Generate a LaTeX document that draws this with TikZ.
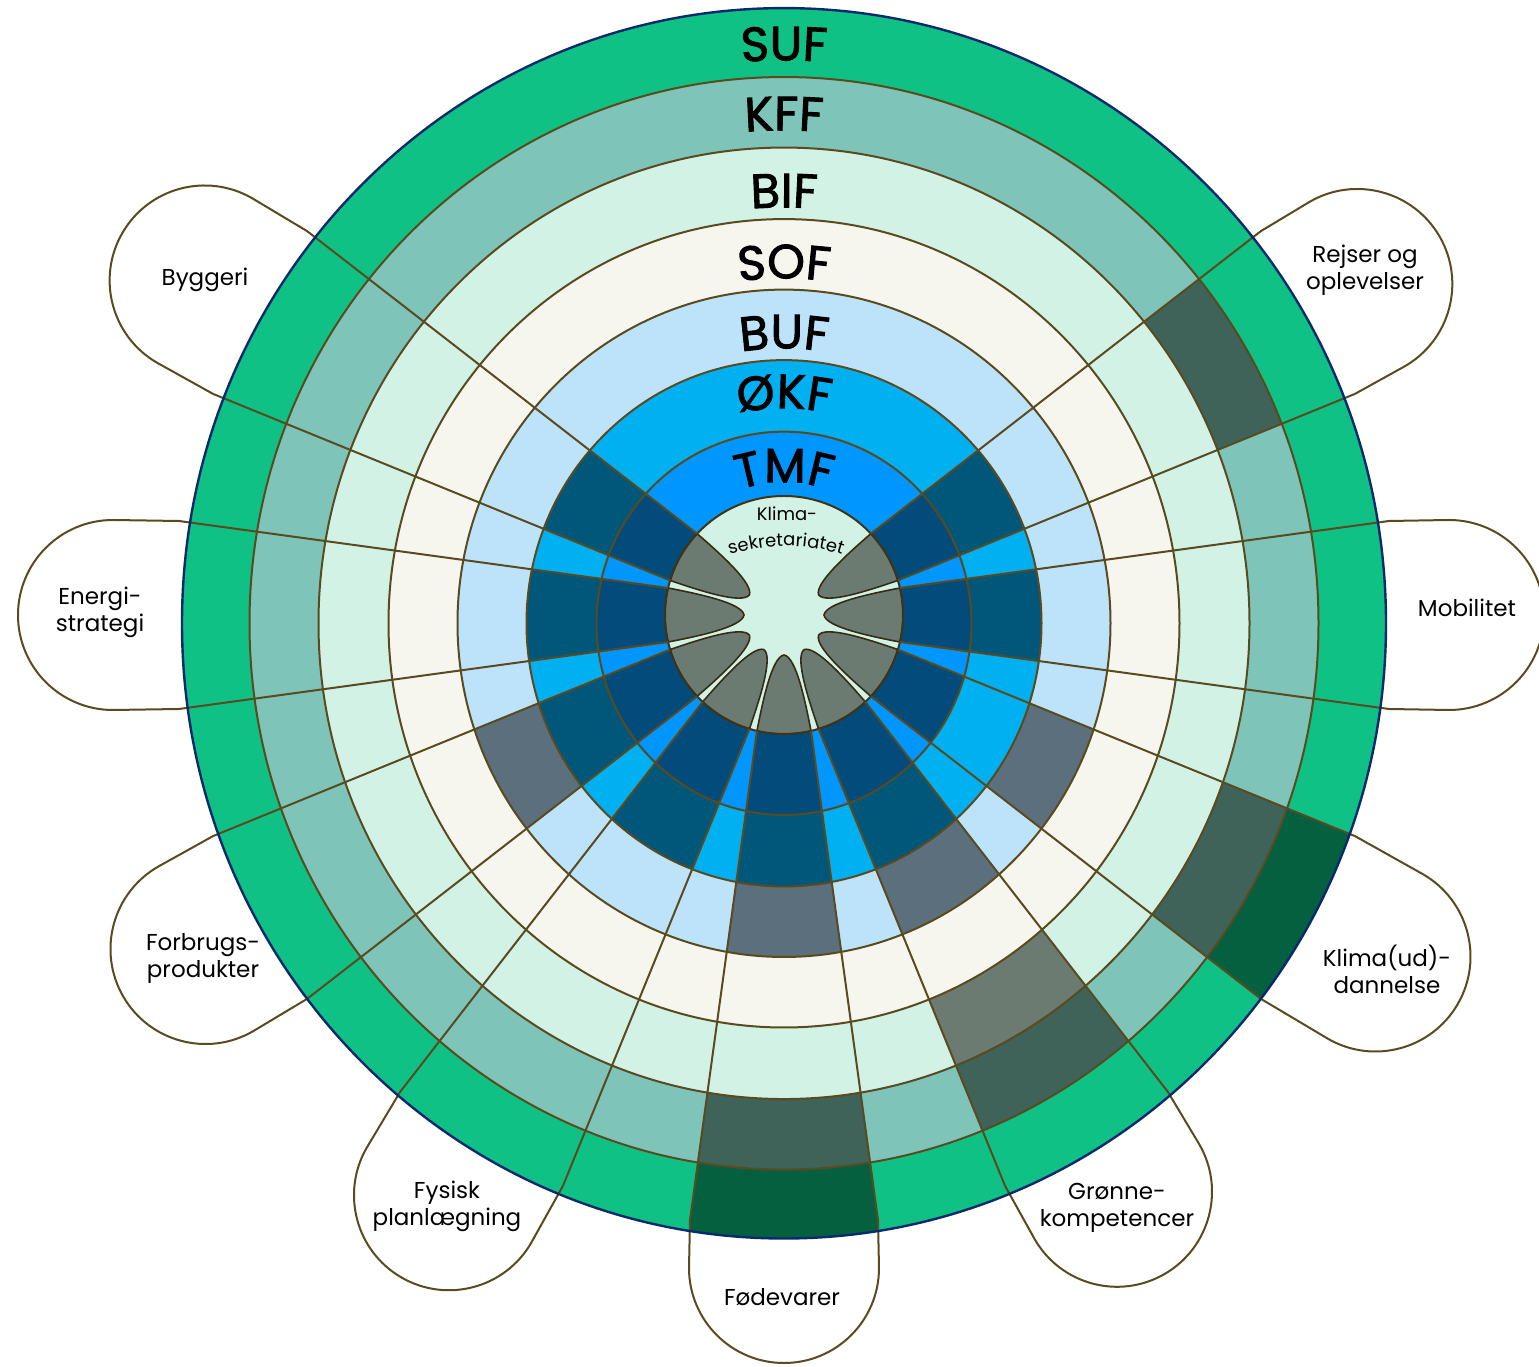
\documentclass[tikz,border=0pt]{standalone}
\usepackage{fontspec}
\setmainfont{Poppins}
\newfontfamily\ringfam{Poppins}[FakeBold=2]
\usetikzlibrary{decorations.text}

\definecolor{suf0}{HTML}{0FC184}
\definecolor{suf1}{HTML}{05603F}
\definecolor{kff0}{HTML}{7FC4B8}
\definecolor{kff1}{HTML}{3F6259}
\definecolor{bif0}{HTML}{D3F2E6}
\definecolor{bif1}{HTML}{6B7B72}
\definecolor{sof0}{HTML}{F6F6EE}
\definecolor{sof1}{HTML}{6B7B72}
\definecolor{buf0}{HTML}{BDE3FB}
\definecolor{buf1}{HTML}{5B6F7D}
\definecolor{okf0}{HTML}{00B0F0}
\definecolor{okf1}{HTML}{00577A}
\definecolor{tmf0}{HTML}{0096FF}
\definecolor{tmf1}{HTML}{034B7A}
\definecolor{edge}{HTML}{5A4A1F}
\definecolor{rim}{HTML}{0B2A6E}

\newcommand{\ringfont}{\fontsize{24}{24}\selectfont\ringfam}
% rings from outside in, flags: tmf okf buf sof bif kff suf
\newcommand{\ringdisks}[7]{%
  \fill[fill=suf#7] (Cr) ellipse[x radius=602, y radius=615.2];
  \fill[fill=kff#6] (Cr) ellipse[x radius=534.5, y radius=546.3];
  \fill[fill=bif#5] (Cr) ellipse[x radius=465.5, y radius=475.7];
  \fill[fill=sof#4] (Cr) ellipse[x radius=395.5, y radius=404.2];
  \fill[fill=buf#3] (Cr) ellipse[x radius=326.5, y radius=333.7];
  \fill[fill=okf#2] (Cr) ellipse[x radius=257.5, y radius=263.2];
  \fill[fill=tmf#1] (Cr) ellipse[x radius=187.5, y radius=191.6];
}

\tikzset{
  petal/.style={font=\fontsize{11.5}{13.5}\selectfont, align=center, text=black},
  ringlabel/.style={decorate, decoration={text along path, text align=center}},
}

\begin{document}
\begin{tikzpicture}[x=0.5pt, y=0.5pt]
  \fill[white] (0,0) rectangle (1539,1367);
  \useasboundingbox (0,0) rectangle (1539,1367);
  \coordinate (Cr) at (784,743.7);
  \coordinate (Ci) at (784,752);

  % the committee rings
  \ringdisks{0}{0}{0}{0}{0}{0}{0}

  % darker parts where a theme meets a committee
  \foreach \wa/\sT/\sO/\sB/\sS/\sI/\sK/\sU in {
      0/1/1/0/0/0/0/0,     % Mobilitet
      30/1/1/0/0/0/1/0,    % Rejser og oplevelser
      150/1/1/0/0/0/0/0,   % Byggeri
      180/1/1/0/0/0/0/0,   % Energistrategi
      210/1/1/1/0/0/0/0,   % Forbrugsprodukter
      240/1/1/0/0/0/0/0,   % Fysisk planlaegning
      270/1/1/1/0/0/1/1,   % Foedevarer
      300/1/1/1/0/1/1/0,   % Groenne kompetencer
      330/1/0/1/0/0/1/1}   % Klima(ud)dannelse
  {
    \begin{scope}
      \clip[shift={(Ci)}, rotate=\wa] (0,11.1) -- (605,94) -- (720,97)
        -- (720,-97) -- (605,-94) -- (0,-11.1) -- cycle;
      \ringdisks{\sT}{\sO}{\sB}{\sS}{\sI}{\sK}{\sU}
    \end{scope}
  }

  % centre
  \fill[bif0] (Ci) circle[radius=119];
  \foreach \wa in {0,30,150,180,210,240,270,300,330}
    \filldraw[fill=bif1, draw=edge!60!black, line width=0.8pt, shift={(Ci)}, rotate=\wa]
      (115.9,27) .. controls (85,21) and (42,12) .. (40,0)
      .. controls (42,-12) and (85,-21) .. (115.9,-27)
      arc[start angle=-13.11, end angle=13.11, radius=119] -- cycle;

  % ring borders
  \foreach \rr in {534.5,465.5,395.5,326.5,257.5,187.5} {
    \pgfmathsetmacro\ry{1.022*\rr}
    \draw[edge, line width=1pt] (Cr) ellipse[x radius=\rr, y radius=\ry];
  }
  \draw[edge!70!black, line width=1pt] (Ci) circle[radius=119];

  % petals
  \foreach \wa/\wd in {0/665, 30/662, 150/669, 180/671, 210/668, 240/670, 270/653, 300/666, 330/683}
    \draw[edge, line width=1pt, line join=round, shift={(Ci)}, rotate=\wa]
      (115.9,27) -- (605,94) -- (\wd,95) arc[start angle=90, end angle=-90, radius=95]
      -- (605,-94) -- (115.9,-27);

  \draw[rim, line width=1.2pt] (Cr) ellipse[x radius=602, y radius=615.2];

  % committee names
  \path[ringlabel, decoration={text={|\ringfont|SUF}}] (Cr) ++(100:563) arc[start angle=100, end angle=80, radius=563];
  \path[ringlabel, decoration={text={|\ringfont|KFF}}] (Cr) ++(102:493) arc[start angle=102, end angle=78, radius=493];
  \path[ringlabel, decoration={text={|\ringfont|BIF}}] (Cr) ++(104:416) arc[start angle=104, end angle=76, radius=416];
  \path[ringlabel, decoration={text={|\ringfont|SOF}}] (Cr) ++(107:345) arc[start angle=107, end angle=73, radius=345];
  \path[ringlabel, decoration={text={|\ringfont|BUF}}] (Cr) ++(111:275) arc[start angle=111, end angle=69, radius=275];
  \path[ringlabel, decoration={text={|\ringfont|ØKF}}] (Cr) ++(117:215) arc[start angle=117, end angle=63, radius=215];
  \path[ringlabel, decoration={text={|\ringfont|TMF}}] (Cr) ++(130:141) arc[start angle=130, end angle=50, radius=141];

  \node[font=\fontsize{9}{9}\selectfont] (klima) at (787,853) {Klima-};
  \path[ringlabel, decoration={text={|\fontsize{9}{9}\selectfont|sekretariatet}}] (786,641) ++(114:180) arc[start angle=114, end angle=66, radius=180];

  % theme names
  \node[petal] (byggeri) at (205,1087) {Byggeri};
  \node[petal] (rejser) at (1365,1097) {Rejser og\\oplevelser};
  \node[petal] (energi) at (100,755) {Energi-\\strategi};
  \node[petal] (mobilitet) at (1467,759) {Mobilitet};
  \node[petal] (forbrug) at (203,409) {Forbrugs-\\produkter};
  \node[petal] (klimaud) at (1387,398) {Klima(ud)-\\dannelse};
  \node[petal] (fysisk) at (447,161) {Fysisk\\planlægning};
  \node[petal] (foede) at (782,70) {Fødevarer};
  \node[petal] (groenne) at (1117,159) {Grønne-\\kompetencer};
\end{tikzpicture}
\end{document}
